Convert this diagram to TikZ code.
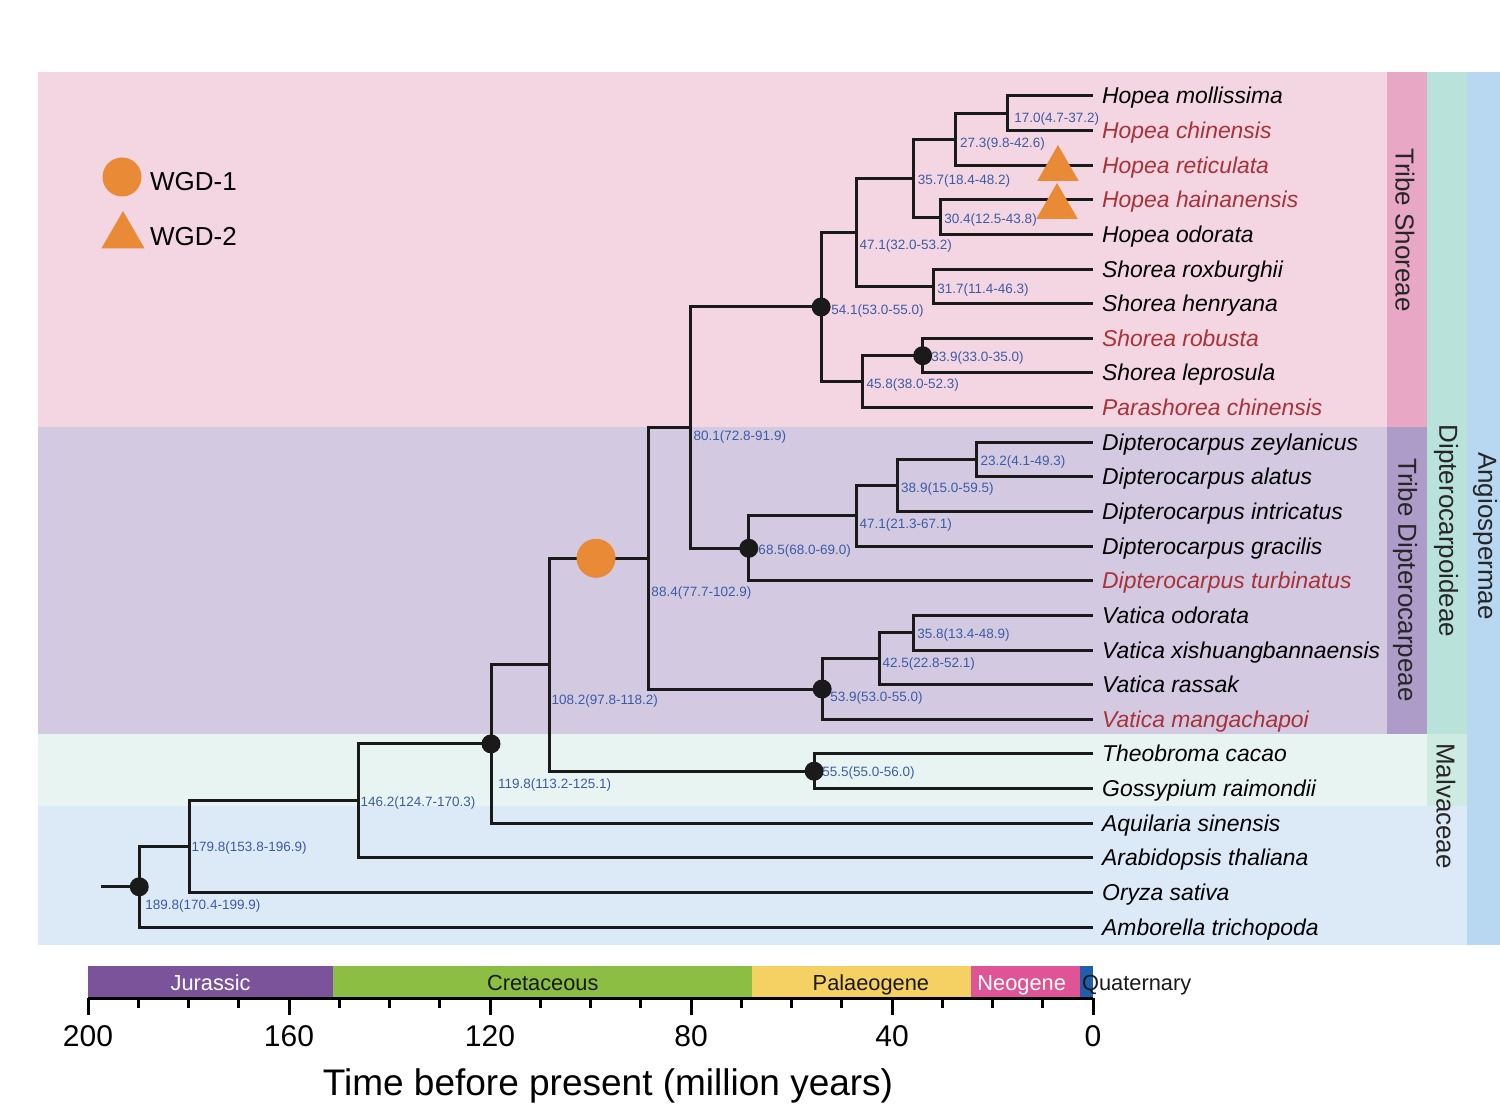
\documentclass[tikz,border=0pt]{standalone}
\usepackage{fontspec}
\setmainfont{Liberation Sans}
\usetikzlibrary{shapes.geometric}

\definecolor{shorbg}{HTML}{F4D6E2}
\definecolor{diptbg}{HTML}{D3CAE2}
\definecolor{malvbg}{HTML}{E8F4F2}
\definecolor{angbg}{HTML}{DCE9F7}
\definecolor{shorstrip}{HTML}{E8A7C4}
\definecolor{diptstrip}{HTML}{AD9BC8}
\definecolor{subfstrip}{HTML}{B8E2DA}
\definecolor{malvstrip}{HTML}{CDEBE0}
\definecolor{angstrip}{HTML}{B7D8F0}
\definecolor{wgdcol}{HTML}{E98B36}
\definecolor{agecol}{HTML}{3C5BA5}
\definecolor{tipred}{HTML}{A8323A}
\definecolor{treecol}{HTML}{1A1A1A}
\definecolor{jurcol}{HTML}{7B539B}
\definecolor{cretcol}{HTML}{8BBE43}
\definecolor{palcol}{HTML}{F5D163}
\definecolor{neocol}{HTML}{DE5494}
\definecolor{quatcol}{HTML}{1F5EA8}

\tikzset{
  branch/.style={draw=treecol, line width=3pt},
  tip/.style={font=\fontsize{22.9}{26}\selectfont\itshape, anchor=base west, inner sep=0pt},
  age/.style={font=\fontsize{13.5}{15}\selectfont, text=agecol, anchor=base west, inner sep=0pt},
  dot/.style={circle, fill=treecol, minimum size=19pt, inner sep=0pt},
  wgdone/.style={circle, fill=wgdcol, minimum size=39pt, inner sep=0pt},
  wgdtwo/.style={regular polygon, regular polygon sides=3, fill=wgdcol, minimum size=48pt, inner sep=0pt},
  striplabel/.style={font=\fontsize{26}{30}\selectfont, text=black!85, rotate=-90, inner sep=0pt},
  period/.style={font=\fontsize{21.8}{25}\selectfont, anchor=base, inner sep=0pt}
}

\begin{document}
\begin{tikzpicture}[x=1pt,y=-1pt]
\useasboundingbox (0,0) rectangle (1500,1107);

% clade bands
\fill[shorbg] (38,72) rectangle (1387,427);
\fill[diptbg] (38,427) rectangle (1387,734);
\fill[malvbg] (38,734) rectangle (1427,806);
\fill[angbg] (38,806) rectangle (1467,945);
\fill[shorstrip] (1387,72) rectangle (1427,427);
\fill[diptstrip] (1387,427) rectangle (1427,734);
\fill[subfstrip] (1427,72) rectangle (1467,734);
\fill[malvstrip] (1427,734) rectangle (1467,806);
\fill[angstrip] (1467,72) rectangle (1500,945);

\node[striplabel] (shoreae) at (1405,230) {Tribe Shoreae};
\node[striplabel] (dipterocarpeae) at (1405,580) {Tribe Dipterocarpeae};
\node[striplabel] (dipterocarpoideae) at (1446,531) {Dipterocarpoideae};
\node[striplabel] (malvaceae) at (1446,806) {Malvaceae};
\node[striplabel] (angiospermae) at (1485,536) {Angiospermae};

% legend
\node[wgdone] (legone) at (122,177) {};
\node[font=\fontsize{26}{30}\selectfont, anchor=base west, inner sep=0pt] (legonetxt) at (150,191) {WGD-1};
\node[wgdtwo, minimum size=50pt] (legtwo) at (123,236) {};
\node[font=\fontsize{26}{30}\selectfont, anchor=base west, inner sep=0pt] (legtwotxt) at (150,246) {WGD-2};

% tree, x axis in million years before present
\begin{scope}[xshift=1093pt, x=-5.025pt]
\foreach \i/\sp/\c in {1/Hopea mollissima/black, 2/Hopea chinensis/tipred,
    3/Hopea reticulata/tipred, 4/Hopea hainanensis/tipred, 5/Hopea odorata/black,
    6/Shorea roxburghii/black, 7/Shorea henryana/black, 8/Shorea robusta/tipred,
    9/Shorea leprosula/black, 10/Parashorea chinensis/tipred,
    11/Dipterocarpus zeylanicus/black, 12/Dipterocarpus alatus/black,
    13/Dipterocarpus intricatus/black, 14/Dipterocarpus gracilis/black,
    15/Dipterocarpus turbinatus/tipred, 16/Vatica odorata/black,
    17/Vatica xishuangbannaensis/black, 18/Vatica rassak/black,
    19/Vatica mangachapoi/tipred, 20/Theobroma cacao/black,
    21/Gossypium raimondii/black, 22/Aquilaria sinensis/black,
    23/Arabidopsis thaliana/black, 24/Oryza sativa/black,
    25/Amborella trichopoda/black}{
  \coordinate (t\i) at (0,{96+(\i-1)*34.625});
  \node[tip, text=\c, xshift=9pt, yshift=-8pt] (name\i) at (t\i) {\sp};
}

\coordinate (a170) at (17.0,113.3);
\coordinate (a273) at (27.3,139.3);
\coordinate (a304) at (30.4,217.2);
\coordinate (a357) at (35.7,178.25);
\coordinate (a317) at (31.7,286.4);
\coordinate (a471s) at (47.1,232.3);
\coordinate (a339) at (33.9,355.7);
\coordinate (a458) at (45.8,381.65);
\coordinate (a541) at (54.1,307);
\coordinate (a232) at (23.2,459.6);
\coordinate (a389) at (38.9,485.5);
\coordinate (a471d) at (47.1,515.8);
\coordinate (a685) at (68.5,548.3);
\coordinate (a801) at (80.1,427.6);
\coordinate (a358) at (35.8,632.7);
\coordinate (a425) at (42.5,658.65);
\coordinate (a539) at (53.9,689);
\coordinate (a884) at (88.4,558.3);
\coordinate (a555) at (55.5,771.2);
\coordinate (a1082) at (108.2,664.75);
\coordinate (a1198) at (119.8,743.9);
\coordinate (a1462) at (146.2,800.8);
\coordinate (a1798) at (179.8,846.6);
\coordinate (a1898) at (189.8,886.8);
\coordinate (stem) at (197.4,886.8);

\draw[branch] (a170) |- (t1) (a170) |- (t2);
\draw[branch] (a273) |- (a170) (a273) |- (t3);
\draw[branch] (a304) |- (t4) (a304) |- (t5);
\draw[branch] (a357) |- (a273) (a357) |- (a304);
\draw[branch] (a317) |- (t6) (a317) |- (t7);
\draw[branch] (a471s) |- (a357) (a471s) |- (a317);
\draw[branch] (a339) |- (t8) (a339) |- (t9);
\draw[branch] (a458) |- (a339) (a458) |- (t10);
\draw[branch] (a541) |- (a471s) (a541) |- (a458);
\draw[branch] (a232) |- (t11) (a232) |- (t12);
\draw[branch] (a389) |- (a232) (a389) |- (t13);
\draw[branch] (a471d) |- (a389) (a471d) |- (t14);
\draw[branch] (a685) |- (a471d) (a685) |- (t15);
\draw[branch] (a801) |- (a541) (a801) |- (a685);
\draw[branch] (a358) |- (t16) (a358) |- (t17);
\draw[branch] (a425) |- (a358) (a425) |- (t18);
\draw[branch] (a539) |- (a425) (a539) |- (t19);
\draw[branch] (a884) |- (a801) (a884) |- (a539);
\draw[branch] (a555) |- (t20) (a555) |- (t21);
\draw[branch] (a1082) |- (a884) (a1082) |- (a555);
\draw[branch] (a1198) |- (a1082) (a1198) |- (t22);
\draw[branch] (a1462) |- (a1198) (a1462) |- (t23);
\draw[branch] (a1798) |- (a1462) (a1798) |- (t24);
\draw[branch] (a1898) |- (a1798) (a1898) |- (t25);
\draw[branch] (stem) -- (a1898);

% calibrated nodes
\foreach \n in {a1898,a1198,a555,a539,a685,a541,a339}
  \node[dot] at (\n) {};

% whole genome duplications
\node[wgdone] (wgd1) at (98.9,558.3) {};
\node[wgdtwo] (wgd2a) at (6.97,169) {};
\node[wgdtwo] (wgd2b) at (7.16,207) {};

% node ages
\node[age, xshift=6.5pt, yshift=-9.5pt] at (a170) {17.0(4.7-37.2)};
\node[age, xshift=4pt, yshift=-8.5pt] at (a273) {27.3(9.8-42.6)};
\node[age, xshift=4pt, yshift=-6.5pt] at (a357) {35.7(18.4-48.2)};
\node[age, xshift=4pt, yshift=-6.6pt] at (a304) {30.4(12.5-43.8)};
\node[age, xshift=3pt, yshift=-17.5pt] at (a471s) {47.1(32.0-53.2)};
\node[age, xshift=3.5pt, yshift=-7.4pt] at (a317) {31.7(11.4-46.3)};
\node[age, xshift=10pt, yshift=-7.8pt] at (a541) {54.1(53.0-55.0)};
\node[age, xshift=8.5pt, yshift=-6pt] at (a339) {33.9(33.0-35.0)};
\node[age, xshift=3.5pt, yshift=-7pt] at (a458) {45.8(38.0-52.3)};
\node[age, xshift=3pt, yshift=-13pt] at (a801) {80.1(72.8-91.9)};
\node[age, xshift=4pt, yshift=-6pt] at (a232) {23.2(4.1-49.3)};
\node[age, xshift=3.5pt, yshift=-7.3pt] at (a389) {38.9(15.0-59.5)};
\node[age, xshift=3pt, yshift=-13pt] at (a471d) {47.1(21.3-67.1)};
\node[age, xshift=9.5pt, yshift=-6.5pt] at (a685) {68.5(68.0-69.0)};
\node[age, xshift=2.5pt, yshift=-38.5pt] at (a884) {88.4(77.7-102.9)};
\node[age, xshift=4pt, yshift=-6pt] at (a358) {35.8(13.4-48.9)};
\node[age, xshift=3pt, yshift=-9pt] at (a425) {42.5(22.8-52.1)};
\node[age, xshift=8pt, yshift=-12.8pt] at (a539) {53.9(53.0-55.0)};
\node[age, xshift=2pt, yshift=-40pt] at (a1082) {108.2(97.8-118.2)};
\node[age, xshift=8pt, yshift=-5.6pt] at (a555) {55.5(55.0-56.0)};
\node[age, xshift=7pt, yshift=-45pt] at (a1198) {119.8(113.2-125.1)};
\node[age, xshift=2pt, yshift=-6pt] at (a1462) {146.2(124.7-170.3)};
\node[age, xshift=2pt, yshift=-5.2pt] at (a1798) {179.8(153.8-196.9)};
\node[age, xshift=6pt, yshift=-23pt] at (a1898) {189.8(170.4-199.9)};

% geological time scale
\fill[jurcol] (200,966) rectangle (151.2,997);
\fill[cretcol] (151.2,966) rectangle (67.9,997);
\fill[palcol] (67.9,966) rectangle (24.3,997);
\fill[neocol] (24.3,966) rectangle (2.6,997);
\fill[quatcol] (2.6,966) rectangle (0,997);
\node[period, text=white] (jur) at (175.6,990) {Jurassic};
\node[period, text=black!90] (cret) at (109.5,990) {Cretaceous};
\node[period, text=black!90] (pal) at (44.2,990) {Palaeogene};
\node[period, text=white] (neo) at (14.2,990) {Neogene};
\node[period, text=black!90, anchor=base west] (quat) at (2.2,990) {Quaternary};

\draw[line width=3pt] (200,998) -- (0,998);
\foreach \t in {0,10,...,200}
  \draw[line width=3pt] (\t,998) -- (\t,1008);
\foreach \t in {0,40,...,200}{
  \draw[line width=3pt] (\t,998) -- (\t,1015);
  \node[font=\fontsize{30}{34}\selectfont, inner sep=0pt] at (\t,1036) {\t};
}
\end{scope}

\node[font=\fontsize{37}{42}\selectfont, anchor=base, inner sep=0pt] (xlabel) at (608,1095) {Time before present (million years)};
\end{tikzpicture}
\end{document}
